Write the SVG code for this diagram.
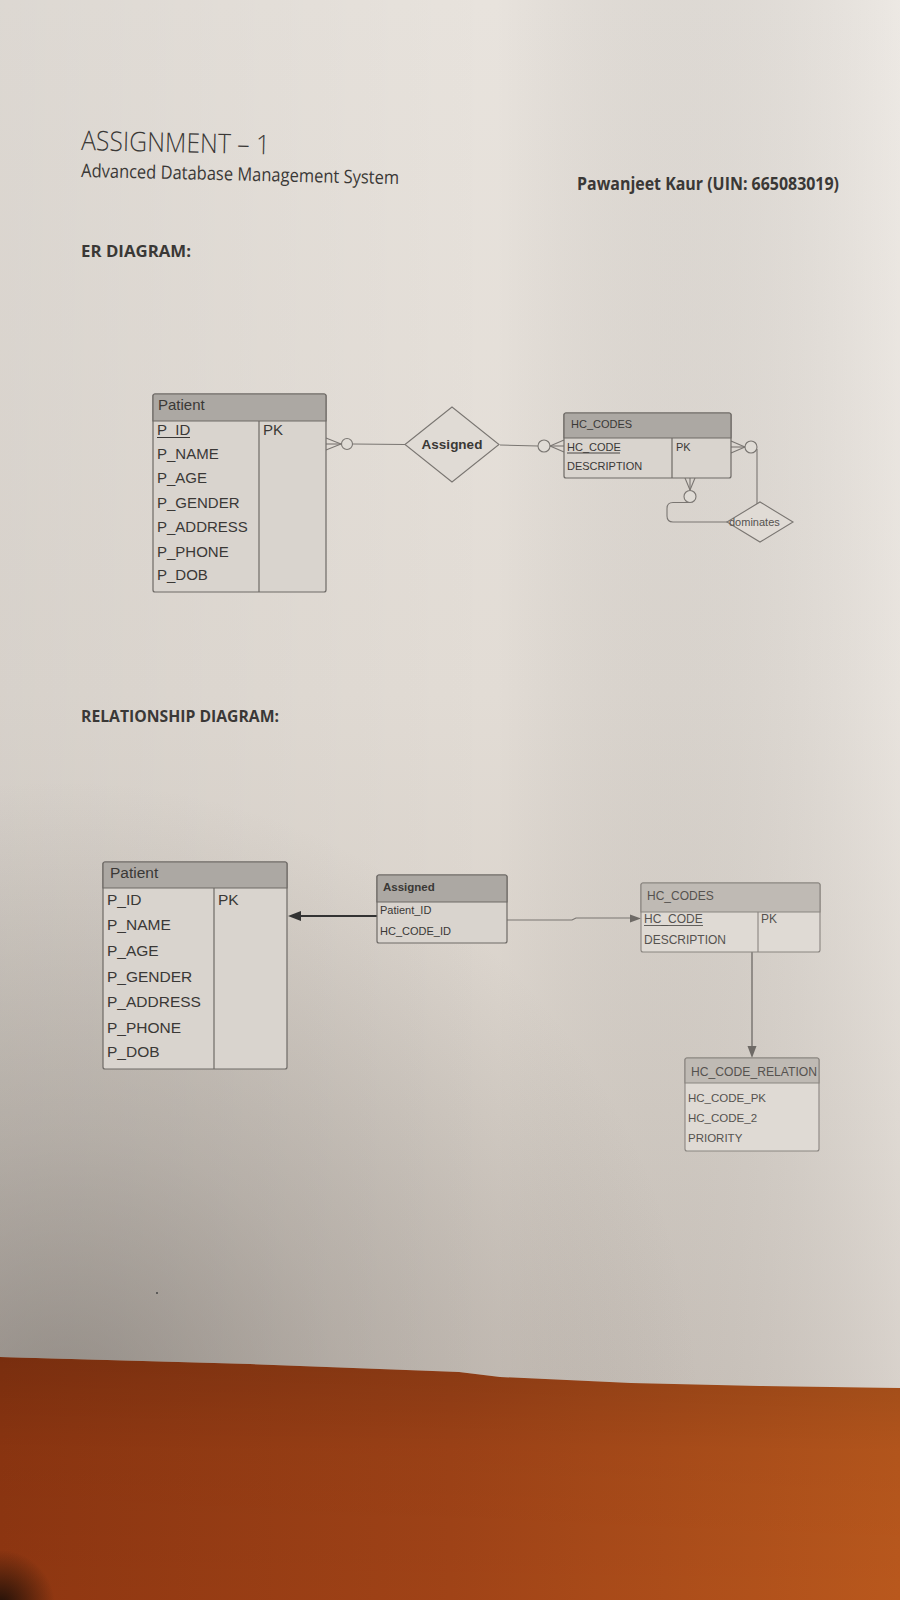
<svg xmlns="http://www.w3.org/2000/svg" width="900" height="1600" viewBox="0 0 900 1600">
  <defs>
    <linearGradient id="paperV" gradientUnits="userSpaceOnUse" x1="0" y1="0" x2="0" y2="1390">
      <stop offset="0" stop-color="#e8e3dd"/>
      <stop offset="0.5" stop-color="#e2dcd5"/>
      <stop offset="0.8" stop-color="#d7d0c8"/>
      <stop offset="1" stop-color="#cec6be"/>
    </linearGradient>
    <linearGradient id="paperH" gradientUnits="userSpaceOnUse" x1="0" y1="0" x2="900" y2="0">
      <stop offset="0" stop-color="#000" stop-opacity="0.05"/>
      <stop offset="0.55" stop-color="#000" stop-opacity="0"/>
      <stop offset="1" stop-color="#fff" stop-opacity="0.2"/>
    </linearGradient>
    <radialGradient id="shadow" gradientUnits="userSpaceOnUse" cx="60" cy="1420" r="640">
      <stop offset="0" stop-color="#5e5853" stop-opacity="0.5"/>
      <stop offset="0.45" stop-color="#6a645f" stop-opacity="0.25"/>
      <stop offset="1" stop-color="#6a645f" stop-opacity="0"/>
    </radialGradient>
    <linearGradient id="orange" gradientUnits="userSpaceOnUse" x1="0" y1="0" x2="900" y2="0">
      <stop offset="0" stop-color="#8e3611"/>
      <stop offset="0.5" stop-color="#a04317"/>
      <stop offset="1" stop-color="#b9581d"/>
    </linearGradient>
    <linearGradient id="orangeV" gradientUnits="userSpaceOnUse" x1="0" y1="1350" x2="0" y2="1600">
      <stop offset="0" stop-color="#000" stop-opacity="0.16"/>
      <stop offset="0.4" stop-color="#000" stop-opacity="0.04"/>
      <stop offset="1" stop-color="#000" stop-opacity="0"/>
    </linearGradient>
    <radialGradient id="corner" gradientUnits="userSpaceOnUse" cx="0" cy="1605" r="55">
      <stop offset="0" stop-color="#150c07" stop-opacity="0.9"/>
      <stop offset="1" stop-color="#150c07" stop-opacity="0"/>
    </radialGradient>
    <style>
      .box { fill: #d9d4ce; stroke: #6e6a66; stroke-width: 1.2; }
      .boxR { fill: #dfdad4; stroke: #8a8580; stroke-width: 1.1; }
      .hdr { fill: #aca8a3; stroke: #6e6a66; stroke-width: 1.2; }
      .hdrR { fill: #bfbab4; stroke: #8a8580; stroke-width: 1.1; }
      .sep { stroke: #6e6a66; stroke-width: 1.2; fill: none; }
      .sepR { stroke: #8a8580; stroke-width: 1.1; fill: none; }
      .t { font-family: "Liberation Sans", Arial, sans-serif; fill: #3a3836; }
      .tR { font-family: "Liberation Sans", Arial, sans-serif; fill: #55524f; }
      .head { font-family: "Open Sans", "Liberation Sans", sans-serif; fill: #3a3836; }
      .ln { stroke: #7a7672; stroke-width: 1.1; fill: none; }
      .circ { stroke: #7a7672; stroke-width: 1.1; fill: #e0dcd6; }
      .dia { fill: #e0dbd5; stroke: #7a7672; stroke-width: 1.1; }
    </style>
  </defs>

  <!-- background: table surface and paper -->
  <rect x="0" y="0" width="900" height="1600" fill="url(#orange)"/>
  <rect x="0" y="1340" width="900" height="260" fill="url(#orangeV)"/>
  <rect x="0" y="1540" width="60" height="60" fill="url(#corner)"/>
  <g id="paper">
    <path d="M0,0 H900 V1388 L760,1386 L631,1383 L500,1377 L459,1372 L250,1364 L0,1357 Z" fill="url(#paperV)"/>
    <path d="M0,0 H900 V1388 L760,1386 L631,1383 L500,1377 L459,1372 L250,1364 L0,1357 Z" fill="url(#paperH)"/>
    <path d="M0,0 H900 V1388 L760,1386 L631,1383 L500,1377 L459,1372 L250,1364 L0,1357 Z" fill="url(#shadow)"/>
    <circle cx="157" cy="1293" r="1" fill="#444"/>
  </g>

  <!-- headings -->
  <g id="headings">
    <text class="head" x="81" y="150" font-size="27" font-weight="300" fill="#5a5856" textLength="189" lengthAdjust="spacingAndGlyphs" transform="rotate(1.3 81 150)">ASSIGNMENT – 1</text>
    <text class="head" x="81" y="177" font-size="18.5" textLength="318" lengthAdjust="spacingAndGlyphs" transform="rotate(1.3 81 177)">Advanced Database Management System</text>
    <text class="head" x="577" y="190" font-size="17" font-weight="bold" textLength="262" lengthAdjust="spacingAndGlyphs">Pawanjeet Kaur (UIN: 665083019)</text>
    <text class="head" x="81" y="257" font-size="16.5" font-weight="bold" textLength="110" lengthAdjust="spacingAndGlyphs">ER DIAGRAM:</text>
    <text class="head" x="81" y="722" font-size="16.5" font-weight="bold" textLength="198" lengthAdjust="spacingAndGlyphs">RELATIONSHIP DIAGRAM:</text>
  </g>

  <!-- ER diagram connectors -->
  <g id="er-connectors">
    <line class="ln" x1="326" y1="438" x2="341" y2="444"/>
    <line class="ln" x1="326" y1="444" x2="341" y2="444"/>
    <line class="ln" x1="326" y1="450" x2="341" y2="444"/>
    <line class="ln" x1="352.5" y1="444" x2="405" y2="444.5"/>
    <circle class="circ" cx="347" cy="444" r="5.5"/>

    <line class="ln" x1="500" y1="445" x2="538" y2="446"/>
    <circle class="circ" cx="544" cy="446" r="6"/>
    <line class="ln" x1="550" y1="446" x2="564" y2="440"/>
    <line class="ln" x1="550" y1="446" x2="564" y2="446"/>
    <line class="ln" x1="550" y1="446" x2="564" y2="452"/>

    <line class="ln" x1="731" y1="441" x2="745" y2="447"/>
    <line class="ln" x1="731" y1="447" x2="745" y2="447"/>
    <line class="ln" x1="731" y1="453" x2="745" y2="447"/>
    <path class="ln" d="M757,449 V504"/>
    <circle class="circ" cx="751" cy="447" r="6"/>

    <line class="ln" x1="685" y1="478" x2="690" y2="490"/>
    <line class="ln" x1="690" y1="478" x2="690" y2="490"/>
    <line class="ln" x1="695" y1="478" x2="690" y2="490"/>
    <path class="ln" d="M690,502.5 H673 Q667,502.5 667,508.5 V516 Q667,522 673,522 H727"/>
    <circle class="circ" cx="690" cy="496.5" r="6"/>
  </g>

  <!-- ER: Patient -->
  <g id="er-patient">
    <rect class="box" x="153" y="394" width="173" height="198" rx="2"/>
    <path class="hdr" d="M155,394 H324 Q326,394 326,396 V421 H153 V396 Q153,394 155,394 Z"/>
    <line class="sep" x1="259" y1="421" x2="259" y2="592"/>
    <text class="t" x="158" y="410" font-size="15">Patient</text>
    <text class="t" x="157" y="435" font-size="15">P_ID</text>
    <line x1="157" y1="437.5" x2="190" y2="437.5" stroke="#3a3836" stroke-width="1"/>
    <text class="t" x="263" y="435" font-size="15">PK</text>
    <text class="t" x="157" y="459" font-size="15">P_NAME</text>
    <text class="t" x="157" y="483" font-size="15">P_AGE</text>
    <text class="t" x="157" y="508" font-size="15">P_GENDER</text>
    <text class="t" x="157" y="532" font-size="15">P_ADDRESS</text>
    <text class="t" x="157" y="557" font-size="15">P_PHONE</text>
    <text class="t" x="157" y="580" font-size="15">P_DOB</text>
  </g>

  <!-- ER: Assigned relationship -->
  <g id="er-assigned">
    <polygon class="dia" points="405,444.5 452,407 499,444.5 452,482"/>
    <text class="t" x="452" y="449" font-size="13.5" font-weight="bold" text-anchor="middle">Assigned</text>
  </g>

  <!-- ER: HC_CODES -->
  <g id="er-hc-codes">
    <rect class="box" x="564" y="413" width="167" height="65" rx="2"/>
    <path class="hdr" d="M566,413 H729 Q731,413 731,415 V438 H564 V415 Q564,413 566,413 Z"/>
    <line class="sep" x1="672" y1="438" x2="672" y2="478"/>
    <text class="t" x="571" y="428" font-size="11">HC_CODES</text>
    <text class="t" x="567" y="451" font-size="11">HC_CODE</text>
    <line x1="567" y1="453" x2="620" y2="453" stroke="#3a3836" stroke-width="0.9"/>
    <text class="t" x="676" y="451" font-size="11">PK</text>
    <text class="t" x="567" y="470" font-size="11">DESCRIPTION</text>
  </g>

  <!-- ER: dominates relationship -->
  <g id="er-dominates">
    <polygon class="dia" points="727,522 760,502 793,522 760,542"/>
    <text class="tR" x="729" y="525.5" font-size="11">dominates</text>
  </g>

  <!-- Relationship diagram connectors -->
  <g id="rd-connectors">
    <line x1="377" y1="916" x2="300" y2="916" stroke="#333" stroke-width="2"/>
    <polygon points="288,916 301,911 301,921" fill="#333"/>
    <path d="M507,920 H572 L576,918 H631" stroke="#7a7672" stroke-width="1.1" fill="none"/>
    <polygon points="641,918.5 630,914.5 630,922.5" fill="#6e6a66"/>
    <line x1="752" y1="952" x2="752" y2="1048" stroke="#6e6a66" stroke-width="1.3"/>
    <polygon points="752,1058 747.5,1046 756.5,1046" fill="#6e6a66"/>
  </g>

  <!-- RD: Patient -->
  <g id="rd-patient">
    <rect class="box" x="103" y="862" width="184" height="207" rx="2"/>
    <path class="hdr" d="M105,862 H285 Q287,862 287,864 V888 H103 V864 Q103,862 105,862 Z"/>
    <line class="sep" x1="214" y1="888" x2="214" y2="1069"/>
    <text class="t" x="110" y="878" font-size="15.5">Patient</text>
    <text class="t" x="107" y="905" font-size="15.5">P_ID</text>
    <text class="t" x="218" y="905" font-size="15.5">PK</text>
    <text class="t" x="107" y="930" font-size="15.5">P_NAME</text>
    <text class="t" x="107" y="956" font-size="15.5">P_AGE</text>
    <text class="t" x="107" y="982" font-size="15.5">P_GENDER</text>
    <text class="t" x="107" y="1007" font-size="15.5">P_ADDRESS</text>
    <text class="t" x="107" y="1033" font-size="15.5">P_PHONE</text>
    <text class="t" x="107" y="1057" font-size="15.5">P_DOB</text>
  </g>

  <!-- RD: Assigned -->
  <g id="rd-assigned">
    <rect class="box" x="377" y="875" width="130" height="68" rx="2"/>
    <path class="hdr" d="M379,875 H505 Q507,875 507,877 V902 H377 V877 Q377,875 379,875 Z"/>
    <text class="t" x="383" y="891" font-size="11.5" font-weight="bold">Assigned</text>
    <text class="t" x="380" y="914" font-size="11">Patient_ID</text>
    <text class="t" x="380" y="935" font-size="11">HC_CODE_ID</text>
  </g>

  <!-- RD: HC_CODES -->
  <g id="rd-hc-codes">
    <rect class="boxR" x="641" y="883" width="179" height="69" rx="2"/>
    <path class="hdrR" d="M643,883 H818 Q820,883 820,885 V912 H641 V885 Q641,883 643,883 Z"/>
    <line class="sepR" x1="758" y1="912" x2="758" y2="952"/>
    <text class="tR" x="647" y="900" font-size="12">HC_CODES</text>
    <text class="tR" x="644" y="923" font-size="12">HC_CODE</text>
    <line x1="644" y1="925.5" x2="703" y2="925.5" stroke="#55524f" stroke-width="0.9"/>
    <text class="tR" x="761" y="923" font-size="12">PK</text>
    <text class="tR" x="644" y="944" font-size="12">DESCRIPTION</text>
  </g>

  <!-- RD: HC_CODE_RELATION -->
  <g id="rd-hc-code-relation">
    <rect class="boxR" x="685" y="1058" width="134" height="93" rx="2"/>
    <path class="hdrR" d="M687,1058 H817 Q819,1058 819,1060 V1083 H685 V1060 Q685,1058 687,1058 Z"/>
    <text class="tR" x="691" y="1076" font-size="12" textLength="126" lengthAdjust="spacingAndGlyphs">HC_CODE_RELATION</text>
    <text class="tR" x="688" y="1102" font-size="11.5">HC_CODE_PK</text>
    <text class="tR" x="688" y="1122" font-size="11.5">HC_CODE_2</text>
    <text class="tR" x="688" y="1142" font-size="11.5">PRIORITY</text>
  </g>
</svg>
